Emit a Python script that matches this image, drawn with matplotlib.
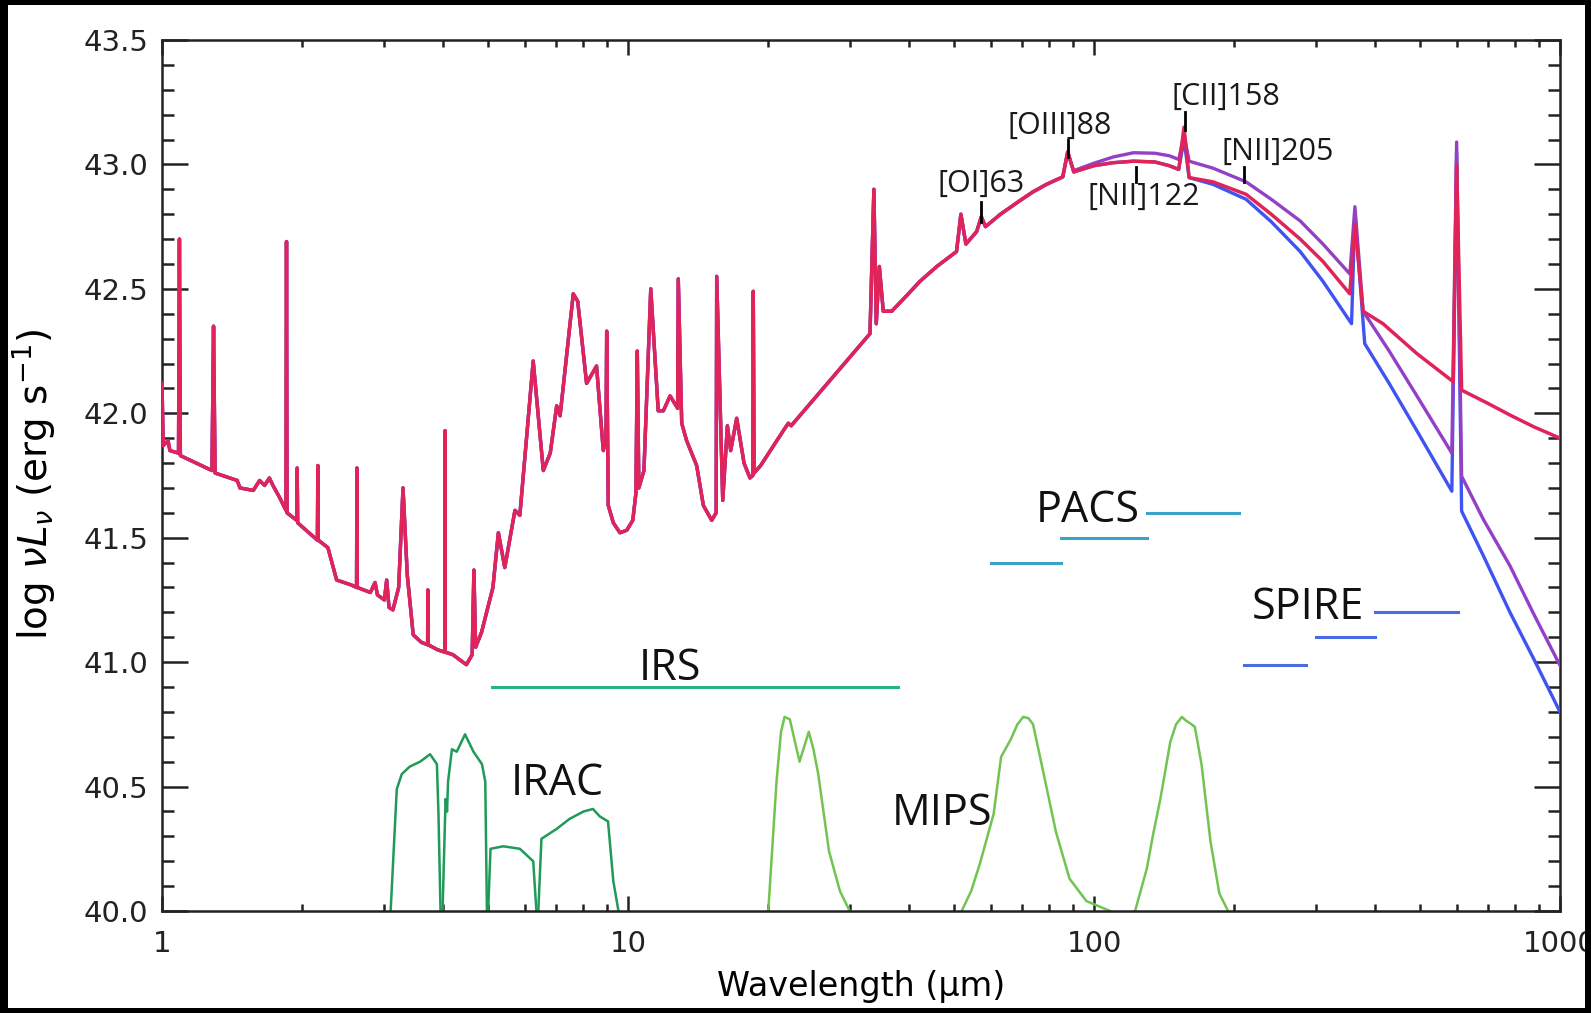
import numpy as np
import matplotlib.pyplot as plt
from matplotlib.patches import Rectangle
from matplotlib.ticker import FixedLocator, LogLocator, MultipleLocator, NullFormatter

# model SED, shared part (wavelength in micron, log nuLnu)
sed_wl = [1.00, 1.006, 1.03, 1.04, 1.085, 1.09, 1.095, 1.28, 1.29, 1.30,
          1.45, 1.47, 1.57, 1.62, 1.66, 1.70, 1.73, 1.79, 1.845, 1.85,
          1.855, 1.945, 1.95, 1.955, 2.155, 2.16, 2.165, 2.27, 2.37, 2.55,
          2.615, 2.62, 2.625, 2.80, 2.865, 2.90, 3.00, 3.035, 3.07, 3.13,
          3.22, 3.29, 3.36, 3.46, 3.60, 3.715, 3.72, 3.725, 3.90, 4.045,
          4.05, 4.055, 4.21, 4.35, 4.50, 4.63, 4.67, 4.71, 4.85, 5.13,
          5.27, 5.44, 5.72, 5.86, 6.26, 6.58, 6.81, 7.03, 7.15, 7.63,
          7.80, 8.15, 8.56, 8.85, 8.97, 9.00, 9.07, 9.30, 9.61, 9.94,
          10.24, 10.40, 10.47, 10.55, 10.82, 11.19, 11.61, 11.91, 12.31, 12.78,
          12.82, 13.04, 13.36, 14.04, 14.51, 15.12, 15.46, 15.50, 15.97, 16.34,
          16.61, 17.11, 17.74, 18.27, 18.53, 18.57, 18.65, 19.26, 21.54, 22.08,
          22.40, 33.06, 33.7, 34.1, 34.62, 35.3, 36.8, 39.5, 42.3, 46.0,
          50.7, 51.8, 53.1, 56.0, 57.3, 58.5, 63.0, 69.4, 74.0, 79.1,
          85.7, 87.8, 90.5]
sed_lum = [42.12, 41.87, 41.89, 41.85, 41.84, 42.70, 41.83, 41.77, 42.35, 41.76,
           41.73, 41.70, 41.69, 41.73, 41.71, 41.74, 41.71, 41.66, 41.61, 42.69,
           41.60, 41.57, 41.78, 41.56, 41.49, 41.79, 41.49, 41.46, 41.33, 41.31,
           41.30, 41.78, 41.30, 41.28, 41.32, 41.27, 41.25, 41.33, 41.22, 41.21,
           41.30, 41.70, 41.35, 41.11, 41.08, 41.07, 41.29, 41.07, 41.05, 41.04,
           41.93, 41.04, 41.03, 41.01, 40.99, 41.03, 41.37, 41.06, 41.12, 41.30,
           41.52, 41.38, 41.61, 41.59, 42.21, 41.77, 41.84, 42.03, 41.99, 42.48,
           42.45, 42.12, 42.19, 41.85, 41.90, 42.33, 41.63, 41.56, 41.52, 41.53,
           41.57, 41.68, 42.25, 41.70, 41.77, 42.50, 42.01, 42.01, 42.07, 42.02,
           42.54, 41.96, 41.89, 41.79, 41.63, 41.57, 41.60, 42.55, 41.65, 41.95,
           41.85, 41.98, 41.80, 41.74, 41.75, 42.49, 41.76, 41.79, 41.93, 41.96,
           41.95, 42.32, 42.90, 42.36, 42.59, 42.41, 42.41, 42.47, 42.53, 42.59,
           42.65, 42.80, 42.68, 42.73, 42.79, 42.75, 42.80, 42.855, 42.89, 42.92,
           42.95, 43.05, 42.97]

# long wavelength tails of the three models
blue_wl = [90.5, 100, 110, 121.5, 135, 145, 152, 156, 160, 180, 212, 240, 277, 310, 357, 363,
           381, 430, 493, 586, 600, 615, 685, 781, 880, 1000]
blue_lum = [42.97, 42.995, 43.007, 43.013, 43.01, 42.995, 42.98, 43.10, 42.947, 42.92, 42.86,
            42.77, 42.65, 42.53, 42.36, 42.80, 42.28, 42.12, 41.93, 41.687, 43.05, 41.607,
            41.427, 41.20, 41.01, 40.80]
purple_wl = [90.5, 100, 110, 121.5, 135, 145, 152, 156, 160, 180, 212, 240, 277, 310, 354, 363,
             378, 430, 493, 586, 600, 615, 685, 781, 880, 1000]
purple_lum = [42.975, 43.005, 43.03, 43.047, 43.045, 43.035, 43.02, 43.12, 43.013, 42.985, 42.93,
              42.86, 42.773, 42.68, 42.56, 42.83, 42.41, 42.25, 42.07, 41.84, 43.09, 41.747,
              41.573, 41.387, 41.19, 40.987]
red_wl = [90.5, 100, 110, 121.5, 135, 145, 152, 156, 160, 180, 212, 240, 277, 310, 354, 363,
          378, 417, 493, 590, 600, 615, 700, 781, 880, 1000]
red_lum = [42.97, 42.995, 43.007, 43.013, 43.01, 42.995, 42.98, 43.15, 42.947, 42.93, 42.88,
           42.80, 42.70, 42.61, 42.48, 42.76, 42.41, 42.36, 42.24, 42.127, 43.0, 42.093,
           42.04, 41.993, 41.945, 41.90]

# filter curves
irac_wl = [[3.095, 3.19, 3.27, 3.40, 3.58, 3.76, 3.89, 3.92, 3.96],
           [4.00, 4.06, 4.09, 4.11, 4.19, 4.29, 4.47, 4.66, 4.86, 4.94, 4.98],
           [5.01, 5.07, 5.40, 5.86, 6.26, 6.36],
           [6.42, 6.52, 7.03, 7.49, 8.03, 8.41, 8.70, 9.06, 9.30, 9.54]]
irac_resp = [[40.0, 40.49, 40.55, 40.58, 40.60, 40.63, 40.59, 40.39, 40.0],
             [40.0, 40.45, 40.40, 40.52, 40.65, 40.64, 40.71, 40.64, 40.59, 40.52, 40.0],
             [40.0, 40.25, 40.26, 40.25, 40.20, 40.0],
             [40.0, 40.29, 40.33, 40.37, 40.40, 40.41, 40.38, 40.36, 40.12, 40.0]]
mips_wl = [[20.0, 20.83, 21.3, 21.68, 22.25, 23.34, 24.43, 25.0, 25.6, 27.0, 28.5, 29.9],
           [52.0, 54.5, 56.9, 60.9, 63.2, 66.3, 68.5, 70.5, 72.3, 74.0, 77.6, 82.8, 88.6,
            96.3, 108.3],
           [122.5, 129.8, 134.0, 138.8, 145.8, 150.0, 154.4, 157.5, 160.6, 164.6, 170.1,
            177.8, 185.8, 194]]
mips_resp = [[40.0, 40.52, 40.72, 40.78, 40.77, 40.60, 40.72, 40.65, 40.55, 40.24, 40.08, 40.0],
             [40.0, 40.08, 40.19, 40.39, 40.62, 40.69, 40.75, 40.78, 40.775, 40.75, 40.57,
              40.32, 40.13, 40.04, 40.0],
             [40.0, 40.17, 40.31, 40.45, 40.68, 40.75, 40.78, 40.765, 40.755, 40.74, 40.59,
              40.28, 40.07, 40.0]]

# spectrometer coverage (start, end, level)
irs_bar = [(5.1, 38.0, 40.9)]
pacs_bars = [(60, 85, 41.4), (85, 130, 41.5), (130, 205, 41.6)]
spire_bars = [(210, 285, 40.99), (300, 400, 41.1), (400, 605, 41.2)]

# line markers
line_names = ['[OI]63', '[OIII]88', '[NII]122', '[CII]158', '[NII]205']
line_wl = [57.3, 88.0, 123.0, 157.0, 210.0]
line_y0 = [42.77, 43.03, 42.93, 43.14, 42.93]
line_y1 = [42.85, 43.10, 42.99, 43.21, 42.99]
line_text_x = [57.2, 84.5, 128.0, 192.0, 248.0]
line_text_y = [42.92, 43.155, 42.868, 43.27, 43.05]

plt.rcParams['mathtext.fontset'] = 'dejavusans'
fig = plt.figure(figsize=(15.91, 10.13), dpi=100)
ax = fig.add_axes([162 / 1591, 1 - 911 / 1013, (1560 - 162) / 1591, (911 - 40) / 1013])

ax.plot(sed_wl + blue_wl, sed_lum + blue_lum, color='#3f52f2', lw=2.4, zorder=3)
ax.plot(sed_wl + purple_wl, sed_lum + purple_lum, color='#9440c6', lw=2.4, zorder=4)
ax.plot(sed_wl + red_wl, sed_lum + red_lum, color='#e0245a', lw=2.5, zorder=5)

for wl, r in zip(irac_wl, irac_resp):
    ax.plot(wl, r, color='#1f9a58', lw=1.8)
for wl, r in zip(mips_wl, mips_resp):
    ax.plot(wl, r, color='#72c452', lw=1.8)

for a, b, lev in irs_bar:
    ax.plot([a, b], [lev, lev], color='#22b58c', lw=2.2)
for a, b, lev in pacs_bars:
    ax.plot([a, b], [lev, lev], color='#3ba4c6', lw=2.2)
for a, b, lev in spire_bars:
    ax.plot([a, b], [lev, lev], color='#4a6be6', lw=2.2)

big = dict(fontsize=31, family='Open Sans', ha='center', va='center', color='#111111')
ax.text(12.3, 40.975, 'IRS', **big)
ax.text(7.05, 40.51, 'IRAC', **big)
ax.text(47.2, 40.39, 'MIPS', **big)
ax.text(97.0, 41.61, 'PACS', **big)
ax.text(288, 41.22, 'SPIRE', **big)

for name, wl, y0, y1, tx, ty in zip(line_names, line_wl, line_y0, line_y1, line_text_x, line_text_y):
    ax.plot([wl, wl], [y0, y1], color='black', lw=2, zorder=6)
    ax.text(tx, ty, name, fontsize=22, family='Open Sans', ha='center', va='center', color='#1a1a1a')

ax.set_xscale('log')
ax.set_xlim(1, 1000)
ax.set_ylim(40, 43.5)
ax.xaxis.set_major_locator(FixedLocator([1, 10, 100, 1000]))
ax.xaxis.set_minor_locator(LogLocator(base=10, subs=np.arange(2, 10)))
ax.xaxis.set_minor_formatter(NullFormatter())
ax.set_xticklabels(['1', '10', '100', '1000'])
ax.yaxis.set_major_locator(MultipleLocator(0.5))
ax.yaxis.set_minor_locator(MultipleLocator(0.1))
ax.yaxis.set_major_formatter(plt.FormatStrFormatter('%.1f'))

ax.tick_params(which='both', direction='in', top=True, right=True, width=1.8, colors='#222222')
ax.tick_params(axis='x', which='major', length=11, labelsize=21, pad=14)
ax.tick_params(axis='x', which='minor', length=5)
ax.tick_params(axis='y', which='major', length=19, labelsize=21, pad=10)
ax.tick_params(axis='y', which='minor', length=8.5)
for s in ax.spines.values():
    s.set_linewidth(1.8)
    s.set_color('#222222')

ax.set_xlabel('Wavelength (μm)', fontsize=24, labelpad=8)
ax.set_ylabel(r'log $\nu L_\nu$ (erg s$^{-1}$)', fontsize=28)
ax.yaxis.set_label_coords(-0.075, 0.49)

# black frame around the picture
W, H = 1591, 1013
for x0, y0, w, h in [(0, 0, 8, H), (1585, 0, W - 1585, H), (0, H - 5, W, 5), (0, 0, W, 5)]:
    fig.add_artist(Rectangle((x0 / W, y0 / H), w / W, h / H, transform=fig.transFigure,
                             facecolor='black', edgecolor='none', zorder=20))

fig.savefig('out.png', dpi=100)
